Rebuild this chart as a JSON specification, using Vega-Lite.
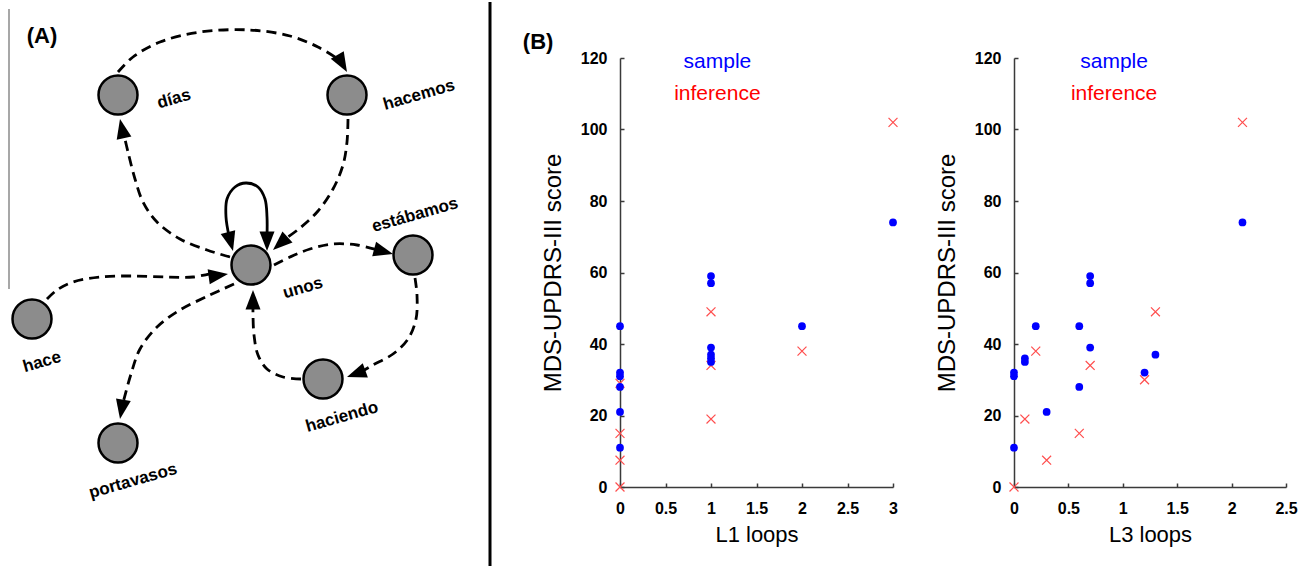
{
  "$schema": "https://vega.github.io/schema/vega-lite/v6.json",
  "padding": 0,
  "background": "white",
  "bounds": "flush",
  "spacing": 121,
  "config": {
    "font": "Liberation Sans",
    "view": {"stroke": null},
    "axis": {
      "grid": false,
      "domainColor": "#3a3a3a",
      "domainWidth": 1.5,
      "tickColor": "#3a3a3a",
      "tickWidth": 1.5,
      "tickSize": -4,
      "labelFont": "Liberation Sans",
      "labelFontSize": 16,
      "labelFontWeight": "bold",
      "labelColor": "black",
      "labelFlush": false,
      "labelOverlap": false,
      "titleFont": "Liberation Sans",
      "titleFontSize": 22,
      "titleFontWeight": "normal",
      "titleColor": "black"
    },
    "axisX": {"labelPadding": 17, "titlePadding": 8},
    "axisY": {"labelPadding": 17, "titlePadding": 15, "titleFontSize": 24}
  },
  "datasets": {
    "rules": [
      {"kind": "thin", "x": 9, "y": 7, "y2": 287},
      {"kind": "divider", "x": 490, "y": 0, "y2": 566}
    ],
    "nodes": [
      {"node": "días", "x": 118, "y": 93},
      {"node": "hacemos", "x": 347, "y": 93},
      {"node": "unos", "x": 251, "y": 263},
      {"node": "estábamos", "x": 413, "y": 253},
      {"node": "hace", "x": 32, "y": 317},
      {"node": "portavasos", "x": 118, "y": 441},
      {"node": "haciendo", "x": 323, "y": 377}
    ],
    "labels": [
      {"text": "días", "x": 174, "y": 97},
      {"text": "hacemos", "x": 419, "y": 93},
      {"text": "estábamos", "x": 415, "y": 213},
      {"text": "unos", "x": 303, "y": 286},
      {"text": "hace", "x": 42, "y": 360},
      {"text": "portavasos", "x": 133, "y": 479},
      {"text": "haciendo", "x": 342, "y": 415}
    ],
    "panelTitles": [
      {"text": "(A)", "x": 42, "y": 34}
    ],
    "edges": [
      {"e": "días-hacemos", "style": "dash", "k": 0, "x": 118, "y": 70},
      {"e": "días-hacemos", "style": "dash", "k": 1, "x": 133, "y": 55},
      {"e": "días-hacemos", "style": "dash", "k": 2, "x": 160, "y": 40},
      {"e": "días-hacemos", "style": "dash", "k": 3, "x": 200, "y": 30},
      {"e": "días-hacemos", "style": "dash", "k": 4, "x": 250, "y": 28},
      {"e": "días-hacemos", "style": "dash", "k": 5, "x": 290, "y": 34},
      {"e": "días-hacemos", "style": "dash", "k": 6, "x": 318, "y": 45},
      {"e": "días-hacemos", "style": "dash", "k": 7, "x": 338, "y": 57},
      {"e": "hacemos-unos", "style": "dash", "k": 0, "x": 348, "y": 117},
      {"e": "hacemos-unos", "style": "dash", "k": 1, "x": 347, "y": 140},
      {"e": "hacemos-unos", "style": "dash", "k": 2, "x": 343, "y": 163},
      {"e": "hacemos-unos", "style": "dash", "k": 3, "x": 333, "y": 187},
      {"e": "hacemos-unos", "style": "dash", "k": 4, "x": 318, "y": 209},
      {"e": "hacemos-unos", "style": "dash", "k": 5, "x": 300, "y": 226},
      {"e": "hacemos-unos", "style": "dash", "k": 6, "x": 285, "y": 237},
      {"e": "unos-días", "style": "dash", "k": 0, "x": 230, "y": 255},
      {"e": "unos-días", "style": "dash", "k": 1, "x": 207, "y": 248},
      {"e": "unos-días", "style": "dash", "k": 2, "x": 180, "y": 237},
      {"e": "unos-días", "style": "dash", "k": 3, "x": 157, "y": 220},
      {"e": "unos-días", "style": "dash", "k": 4, "x": 143, "y": 200},
      {"e": "unos-días", "style": "dash", "k": 5, "x": 135, "y": 177},
      {"e": "unos-días", "style": "dash", "k": 6, "x": 128, "y": 150},
      {"e": "unos-días", "style": "dash", "k": 7, "x": 124, "y": 133},
      {"e": "unos-unos", "style": "solid", "k": 0, "x": 229, "y": 234},
      {"e": "unos-unos", "style": "solid", "k": 1, "x": 226, "y": 215},
      {"e": "unos-unos", "style": "solid", "k": 2, "x": 227, "y": 197},
      {"e": "unos-unos", "style": "solid", "k": 3, "x": 235, "y": 185},
      {"e": "unos-unos", "style": "solid", "k": 4, "x": 246, "y": 181},
      {"e": "unos-unos", "style": "solid", "k": 5, "x": 258, "y": 185},
      {"e": "unos-unos", "style": "solid", "k": 6, "x": 265, "y": 197},
      {"e": "unos-unos", "style": "solid", "k": 7, "x": 267, "y": 215},
      {"e": "unos-unos", "style": "solid", "k": 8, "x": 267, "y": 234},
      {"e": "unos-estábamos", "style": "dash", "k": 0, "x": 274, "y": 263},
      {"e": "unos-estábamos", "style": "dash", "k": 1, "x": 290, "y": 255},
      {"e": "unos-estábamos", "style": "dash", "k": 2, "x": 310, "y": 247},
      {"e": "unos-estábamos", "style": "dash", "k": 3, "x": 333, "y": 242},
      {"e": "unos-estábamos", "style": "dash", "k": 4, "x": 357, "y": 243},
      {"e": "unos-estábamos", "style": "dash", "k": 5, "x": 378, "y": 248},
      {"e": "hace-unos", "style": "dash", "k": 0, "x": 47, "y": 297},
      {"e": "hace-unos", "style": "dash", "k": 1, "x": 57, "y": 288},
      {"e": "hace-unos", "style": "dash", "k": 2, "x": 73, "y": 280},
      {"e": "hace-unos", "style": "dash", "k": 3, "x": 100, "y": 275},
      {"e": "hace-unos", "style": "dash", "k": 4, "x": 133, "y": 274},
      {"e": "hace-unos", "style": "dash", "k": 5, "x": 167, "y": 275},
      {"e": "hace-unos", "style": "dash", "k": 6, "x": 193, "y": 275},
      {"e": "hace-unos", "style": "dash", "k": 7, "x": 213, "y": 271},
      {"e": "unos-portavasos", "style": "dash", "k": 0, "x": 234, "y": 282},
      {"e": "unos-portavasos", "style": "dash", "k": 1, "x": 210, "y": 293},
      {"e": "unos-portavasos", "style": "dash", "k": 2, "x": 180, "y": 308},
      {"e": "unos-portavasos", "style": "dash", "k": 3, "x": 157, "y": 325},
      {"e": "unos-portavasos", "style": "dash", "k": 4, "x": 140, "y": 347},
      {"e": "unos-portavasos", "style": "dash", "k": 5, "x": 131, "y": 372},
      {"e": "unos-portavasos", "style": "dash", "k": 6, "x": 123, "y": 401},
      {"e": "estábamos-haciendo", "style": "dash", "k": 0, "x": 415, "y": 276},
      {"e": "estábamos-haciendo", "style": "dash", "k": 1, "x": 417, "y": 293},
      {"e": "estábamos-haciendo", "style": "dash", "k": 2, "x": 416, "y": 317},
      {"e": "estábamos-haciendo", "style": "dash", "k": 3, "x": 408, "y": 337},
      {"e": "estábamos-haciendo", "style": "dash", "k": 4, "x": 393, "y": 352},
      {"e": "estábamos-haciendo", "style": "dash", "k": 5, "x": 373, "y": 363},
      {"e": "estábamos-haciendo", "style": "dash", "k": 6, "x": 361, "y": 370},
      {"e": "haciendo-unos", "style": "dash", "k": 0, "x": 301, "y": 377},
      {"e": "haciendo-unos", "style": "dash", "k": 1, "x": 283, "y": 375},
      {"e": "haciendo-unos", "style": "dash", "k": 2, "x": 267, "y": 367},
      {"e": "haciendo-unos", "style": "dash", "k": 3, "x": 258, "y": 353},
      {"e": "haciendo-unos", "style": "dash", "k": 4, "x": 254, "y": 333},
      {"e": "haciendo-unos", "style": "dash", "k": 5, "x": 253, "y": 313},
      {"e": "haciendo-unos", "style": "dash", "k": 6, "x": 253, "y": 304}
    ],
    "arrows": [
      {"e": "días-hacemos", "x": 347, "y": 70, "dir": 150},
      {"e": "hacemos-unos", "x": 273, "y": 248, "dir": 228},
      {"e": "unos-días", "x": 120, "y": 117, "dir": -12},
      {"e": "unos-unos L", "x": 233, "y": 249, "dir": 165},
      {"e": "unos-unos R", "x": 267, "y": 249, "dir": 180},
      {"e": "unos-estábamos", "x": 393, "y": 252, "dir": 105},
      {"e": "hace-unos", "x": 228, "y": 272, "dir": 82},
      {"e": "unos-portavasos", "x": 120, "y": 417, "dir": 190},
      {"e": "estábamos-haciendo", "x": 347, "y": 375, "dir": 250},
      {"e": "haciendo-unos", "x": 253, "y": 288, "dir": 0}
    ],
    "L1": [
      {"kind": "sample", "x": 0, "y": 45},
      {"kind": "sample", "x": 0, "y": 32},
      {"kind": "sample", "x": 0, "y": 31},
      {"kind": "sample", "x": 0, "y": 28},
      {"kind": "sample", "x": 0, "y": 21},
      {"kind": "sample", "x": 0, "y": 11},
      {"kind": "sample", "x": 1, "y": 59},
      {"kind": "sample", "x": 1, "y": 57},
      {"kind": "sample", "x": 1, "y": 39},
      {"kind": "sample", "x": 1, "y": 37},
      {"kind": "sample", "x": 1, "y": 36},
      {"kind": "sample", "x": 1, "y": 35},
      {"kind": "sample", "x": 2, "y": 45},
      {"kind": "sample", "x": 3, "y": 74},
      {"kind": "inference", "x": 0, "y": 29},
      {"kind": "inference", "x": 0, "y": 15},
      {"kind": "inference", "x": 0, "y": 7.5},
      {"kind": "inference", "x": 0, "y": 0},
      {"kind": "inference", "x": 1, "y": 49},
      {"kind": "inference", "x": 1, "y": 34},
      {"kind": "inference", "x": 1, "y": 19},
      {"kind": "inference", "x": 2, "y": 38},
      {"kind": "inference", "x": 3, "y": 102}
    ],
    "L3": [
      {"kind": "sample", "x": 0, "y": 32},
      {"kind": "sample", "x": 0, "y": 31},
      {"kind": "sample", "x": 0, "y": 11},
      {"kind": "sample", "x": 0.1, "y": 36},
      {"kind": "sample", "x": 0.1, "y": 35},
      {"kind": "sample", "x": 0.2, "y": 45},
      {"kind": "sample", "x": 0.3, "y": 21},
      {"kind": "sample", "x": 0.6, "y": 45},
      {"kind": "sample", "x": 0.6, "y": 28},
      {"kind": "sample", "x": 0.7, "y": 59},
      {"kind": "sample", "x": 0.7, "y": 57},
      {"kind": "sample", "x": 0.7, "y": 39},
      {"kind": "sample", "x": 1.2, "y": 32},
      {"kind": "sample", "x": 1.3, "y": 37},
      {"kind": "sample", "x": 2.1, "y": 74},
      {"kind": "inference", "x": 0, "y": 0},
      {"kind": "inference", "x": 0.1, "y": 19},
      {"kind": "inference", "x": 0.2, "y": 38},
      {"kind": "inference", "x": 0.3, "y": 7.5},
      {"kind": "inference", "x": 0.6, "y": 15},
      {"kind": "inference", "x": 0.7, "y": 34},
      {"kind": "inference", "x": 1.2, "y": 30},
      {"kind": "inference", "x": 1.3, "y": 49},
      {"kind": "inference", "x": 2.1, "y": 102}
    ],
    "legend1": [
      {"label": "sample", "x": 1.07, "y": 118.8},
      {"label": "inference", "x": 1.07, "y": 110}
    ],
    "legend2": [
      {"label": "sample", "x": 0.92, "y": 118.8},
      {"label": "inference", "x": 0.92, "y": 110}
    ],
    "panelB": [
      {"text": "(B)", "x": -0.9, "y": 124.5}
    ]
  },
  "hconcat": [
    {
      "width": 499,
      "height": 429,
      "encoding": {
        "x": {"field": "x", "type": "quantitative", "scale": {"domain": [0, 499]}, "axis": null},
        "y": {"field": "y", "type": "quantitative", "scale": {"domain": [56, 485], "reverse": true}, "axis": null}
      },
      "layer": [
        {
          "data": {"name": "rules"},
          "transform": [{"filter": "datum.kind === 'thin'"}],
          "mark": {"type": "rule", "color": "#8a8a8a", "strokeWidth": 1.5},
          "encoding": {"y2": {"field": "y2"}}
        },
        {
          "data": {"name": "rules"},
          "transform": [{"filter": "datum.kind === 'divider'"}],
          "mark": {"type": "rule", "color": "black", "strokeWidth": 3},
          "encoding": {"y2": {"field": "y2"}}
        },
        {
          "data": {"name": "edges"},
          "transform": [{"filter": "datum.style === 'dash'"}],
          "mark": {"type": "line", "interpolate": "catmull-rom", "color": "black", "strokeWidth": 2.8, "strokeDash": [10, 6]},
          "encoding": {"detail": {"field": "e", "type": "nominal"}, "order": {"field": "k", "type": "quantitative"}}
        },
        {
          "data": {"name": "edges"},
          "transform": [{"filter": "datum.style === 'solid'"}],
          "mark": {"type": "line", "interpolate": "catmull-rom", "color": "black", "strokeWidth": 2.8},
          "encoding": {"detail": {"field": "e", "type": "nominal"}, "order": {"field": "k", "type": "quantitative"}}
        },
        {
          "data": {"name": "nodes"},
          "mark": {"type": "circle", "size": 1520, "fill": "#8c8c8c", "stroke": "black", "strokeWidth": 2.5, "opacity": 1}
        },
        {
          "data": {"name": "arrows"},
          "mark": {"type": "point", "shape": "M0,0L-5,13L5,13Z", "size": 9, "filled": true, "color": "black", "opacity": 1},
          "encoding": {"angle": {"field": "dir", "type": "quantitative", "scale": null}}
        },
        {
          "data": {"name": "labels"},
          "mark": {"type": "text", "font": "Liberation Sans", "fontSize": 17, "fontWeight": "bold", "angle": -16, "align": "center", "baseline": "middle", "color": "black"},
          "encoding": {"text": {"field": "text"}}
        },
        {
          "data": {"name": "panelTitles"},
          "mark": {"type": "text", "font": "Liberation Sans", "fontSize": 22, "fontWeight": "bold", "align": "center", "baseline": "middle", "color": "black"},
          "encoding": {"text": {"field": "text"}}
        }
      ]
    },
    {
      "width": 273,
      "height": 429,
      "data": {"name": "L1"},
      "encoding": {
        "x": {"field": "x", "type": "quantitative", "title": "L1 loops", "scale": {"domain": [0, 3]}, "axis": {"values": [0, 0.5, 1, 1.5, 2, 2.5, 3], "format": "~g"}},
        "y": {"field": "y", "type": "quantitative", "title": "MDS-UPDRS-III score", "scale": {"domain": [0, 120]}, "axis": {"values": [0, 20, 40, 60, 80, 100, 120], "format": "d"}}
      },
      "layer": [
        {
          "transform": [{"filter": "datum.kind === 'inference'"}],
          "mark": {"type": "point", "shape": "M-1,-1L1,1M-1,1L1,-1", "size": 80, "filled": false, "color": "#ff4d4d", "strokeWidth": 1.2, "opacity": 1}
        },
        {
          "transform": [{"filter": "datum.kind === 'sample'"}],
          "mark": {"type": "circle", "size": 60, "color": "#0000ff", "opacity": 1}
        },
        {
          "data": {"name": "legend1"},
          "mark": {"type": "text", "font": "Liberation Sans", "fontSize": 21, "align": "center", "baseline": "middle"},
          "encoding": {
            "text": {"field": "label"},
            "color": {"field": "label", "type": "nominal", "scale": {"domain": ["sample", "inference"], "range": ["#0000ff", "#ff0000"]}, "legend": null}
          }
        },
        {
          "data": {"name": "panelB"},
          "mark": {"type": "text", "font": "Liberation Sans", "fontSize": 22, "fontWeight": "bold", "align": "center", "baseline": "middle", "color": "black"},
          "encoding": {"text": {"field": "text"}}
        }
      ]
    },
    {
      "width": 272,
      "height": 429,
      "data": {"name": "L3"},
      "encoding": {
        "x": {"field": "x", "type": "quantitative", "title": "L3 loops", "scale": {"domain": [0, 2.5]}, "axis": {"values": [0, 0.5, 1, 1.5, 2, 2.5], "format": "~g"}},
        "y": {"field": "y", "type": "quantitative", "title": "MDS-UPDRS-III score", "scale": {"domain": [0, 120]}, "axis": {"values": [0, 20, 40, 60, 80, 100, 120], "format": "d"}}
      },
      "layer": [
        {
          "transform": [{"filter": "datum.kind === 'inference'"}],
          "mark": {"type": "point", "shape": "M-1,-1L1,1M-1,1L1,-1", "size": 80, "filled": false, "color": "#ff4d4d", "strokeWidth": 1.2, "opacity": 1}
        },
        {
          "transform": [{"filter": "datum.kind === 'sample'"}],
          "mark": {"type": "circle", "size": 60, "color": "#0000ff", "opacity": 1}
        },
        {
          "data": {"name": "legend2"},
          "mark": {"type": "text", "font": "Liberation Sans", "fontSize": 21, "align": "center", "baseline": "middle"},
          "encoding": {
            "text": {"field": "label"},
            "color": {"field": "label", "type": "nominal", "scale": {"domain": ["sample", "inference"], "range": ["#0000ff", "#ff0000"]}, "legend": null}
          }
        }
      ]
    }
  ]
}
